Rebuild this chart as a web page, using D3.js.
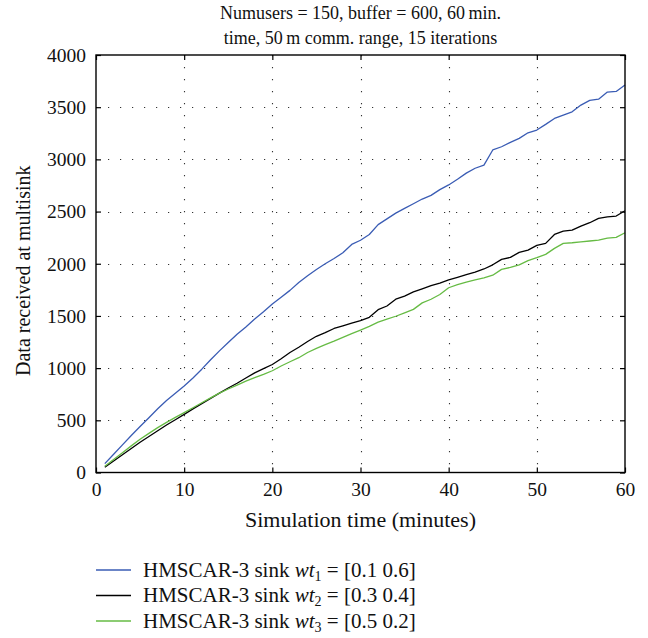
<!DOCTYPE html>
<html>
<head>
<meta charset="utf-8">
<script src="https://cdn.jsdelivr.net/npm/d3@7"></script>
<style>
  html, body { margin: 0; padding: 0; background: #fff; }
  svg { display: block; }
</style>
</head>
<body>
<div id="chart"></div>
<script>
// Simulation minutes 1..60
const minutes = d3.range(1, 61);

// Data received at multisink for each sink weighting
const wt1Values = [
  85, 175, 265, 355, 440, 525, 610, 690, 760, 828,
  905, 990, 1080, 1165, 1245, 1325, 1395, 1470, 1540, 1615,
  1680, 1745, 1820, 1885, 1945, 2000, 2050, 2105, 2185, 2225,
  2280, 2375, 2430, 2485, 2530, 2575, 2620, 2655, 2710, 2755,
  2810, 2868, 2915, 2945, 3090, 3121, 3163, 3201, 3255, 3281,
  3335, 3392, 3424, 3456, 3520, 3565, 3577, 3645, 3651, 3712
];
const wt2Values = [
  50, 110, 170, 230, 290, 345, 400, 455, 505, 557,
  610, 660, 710, 760, 810, 855, 905, 955, 995, 1035,
  1090, 1150, 1200, 1255, 1305, 1340, 1380, 1405, 1430, 1455,
  1487, 1560, 1595, 1660, 1690, 1730, 1760, 1790, 1815, 1845,
  1870, 1895, 1920, 1950, 1990, 2042, 2061, 2109, 2131, 2176,
  2195, 2281, 2313, 2323, 2361, 2393, 2435, 2450, 2457, 2508
];
const wt3Values = [
  60, 125, 190, 255, 318, 375, 430, 480, 528, 573,
  620, 668, 715, 760, 800, 838, 875, 908, 940, 975,
  1020, 1061, 1100, 1150, 1190, 1225, 1258, 1295, 1330, 1365,
  1400, 1440, 1470, 1497, 1530, 1563, 1625, 1660, 1705, 1770,
  1800, 1825, 1845, 1865, 1890, 1946, 1965, 1990, 2030, 2058,
  2090, 2147, 2195, 2201, 2210, 2218, 2227, 2246, 2253, 2297
];

const seriesNames = ["wt1", "wt2", "wt3"];
const seriesLabels = [
  { sub: "1", weights: "[0.1 0.6]" },
  { sub: "2", weights: "[0.3 0.4]" },
  { sub: "3", weights: "[0.5 0.2]" }
];
const seriesColors = ["#3a5cb4", "#000000", "#66bb44"];
const xTicks = [0, 10, 20, 30, 40, 50, 60];
const yTicks = [0, 500, 1000, 1500, 2000, 2500, 3000, 3500, 4000];
const titleLines = [
  "Numusers = 150, buffer = 600, 60\u2009min.",
  "time, 50\u2009m comm. range, 15 iterations"
];

const allSeries = [wt1Values, wt2Values, wt3Values];

const FONT = "'Liberation Serif', 'DejaVu Serif', 'Times New Roman', serif";

const W = 648, H = 638;
const margin = { left: 96, right: 23, top: 55, bottom: 165.5 };
const plotW = W - margin.left - margin.right;
const plotH = H - margin.top - margin.bottom;

const svg = d3.select("#chart").append("svg")
  .attr("width", W).attr("height", H)
  .style("font-family", FONT);

const x = d3.scaleLinear().domain([0, 60]).range([margin.left, margin.left + plotW]);
const y = d3.scaleLinear().domain([0, 4000]).range([margin.top + plotH, margin.top]);

// Dotted grid
const grid = svg.append("g").attr("class", "grid")
  .attr("stroke", "#333").attr("stroke-width", 1.1)
  .attr("stroke-dasharray", "1.2,10.8");
grid.selectAll("line.gx").data(xTicks.slice(1, -1)).join("line")
  .attr("x1", d => Math.round(x(d)) + 0.5).attr("x2", d => Math.round(x(d)) + 0.5)
  .attr("y1", y(4000)).attr("y2", y(0));
grid.selectAll("line.gy").data(yTicks.slice(1, -1)).join("line")
  .attr("y1", d => Math.round(y(d)) + 0.5).attr("y2", d => Math.round(y(d)) + 0.5)
  .attr("x1", x(0)).attr("x2", x(60));

// Series lines
const line = d3.line()
  .x((d, i) => x(minutes[i]))
  .y(d => y(d));
svg.append("g").selectAll("path").data(allSeries).join("path")
  .attr("d", d => line(d))
  .attr("fill", "none")
  .attr("stroke", (d, i) => seriesColors[i])
  .attr("stroke-width", 1.3)
  .attr("stroke-linejoin", "round");

// Axes with inward ticks on all four sides
const tickLen = 5;
const axisStyle = g => {
  g.attr("font-family", FONT).attr("font-size", 19.5);
  g.select(".domain").remove();
  g.selectAll(".tick line").attr("stroke", "#000").attr("stroke-width", 1.2);
  g.selectAll(".tick text").attr("fill", "#111");
};
svg.append("g").attr("transform", `translate(0,${y(0)})`)
  .call(d3.axisBottom(x).tickValues(xTicks).tickSize(-tickLen).tickPadding(10).tickFormat(d3.format("d")))
  .call(axisStyle);
svg.append("g").attr("transform", `translate(0,${y(4000)})`)
  .call(d3.axisTop(x).tickValues(xTicks).tickSize(-tickLen).tickFormat(""))
  .call(axisStyle);
svg.append("g").attr("transform", `translate(${x(0)},0)`)
  .call(d3.axisLeft(y).tickValues(yTicks).tickSize(-tickLen).tickPadding(10).tickFormat(d3.format("d")))
  .call(axisStyle);
svg.append("g").attr("transform", `translate(${x(60)},0)`)
  .call(d3.axisRight(y).tickValues(yTicks).tickSize(-tickLen).tickFormat(""))
  .call(axisStyle);

// Frame
svg.append("rect")
  .attr("x", x(0)).attr("y", y(4000))
  .attr("width", x(60) - x(0)).attr("height", y(0) - y(4000))
  .attr("fill", "none").attr("stroke", "#000").attr("stroke-width", 1.4);

// Title
svg.append("g").selectAll("text").data(titleLines).join("text")
  .attr("x", (x(0) + x(60)) / 2)
  .attr("y", (d, i) => 18.5 + i * 25.5)
  .attr("text-anchor", "middle")
  .attr("font-size", 18).attr("fill", "#111")
  .text(d => d);

// Axis titles
svg.append("text")
  .attr("x", (x(0) + x(60)) / 2).attr("y", 527)
  .attr("text-anchor", "middle").attr("font-size", 22).attr("fill", "#111")
  .text("Simulation time (minutes)");
svg.append("text")
  .attr("transform", `translate(30,${(y(0) + y(4000)) / 2 + 7}) rotate(-90)`)
  .attr("text-anchor", "middle").attr("font-size", 20).attr("fill", "#111")
  .text("Data received at multisink");

// Legend
const legend = svg.append("g");
const rows = legend.selectAll("g").data(seriesNames).join("g")
  .attr("transform", (d, i) => `translate(96,${570 + i * 25.5})`);
rows.append("line")
  .attr("x1", 0).attr("x2", 35).attr("y1", 0).attr("y2", 0)
  .attr("stroke", (d, i) => seriesColors[i]).attr("stroke-width", 1.3);
const lt = rows.append("text")
  .attr("x", 47).attr("y", 6.5).attr("font-size", 21).attr("fill", "#111");
lt.append("tspan").text("HMSCAR-3 sink ");
lt.append("tspan").attr("font-style", "italic").text("wt");
lt.append("tspan").attr("font-size", 14).attr("dy", 4).text((d, i) => seriesLabels[i].sub);
lt.append("tspan").attr("dy", -4).text((d, i) => " = " + seriesLabels[i].weights);
</script>
</body>
</html>
